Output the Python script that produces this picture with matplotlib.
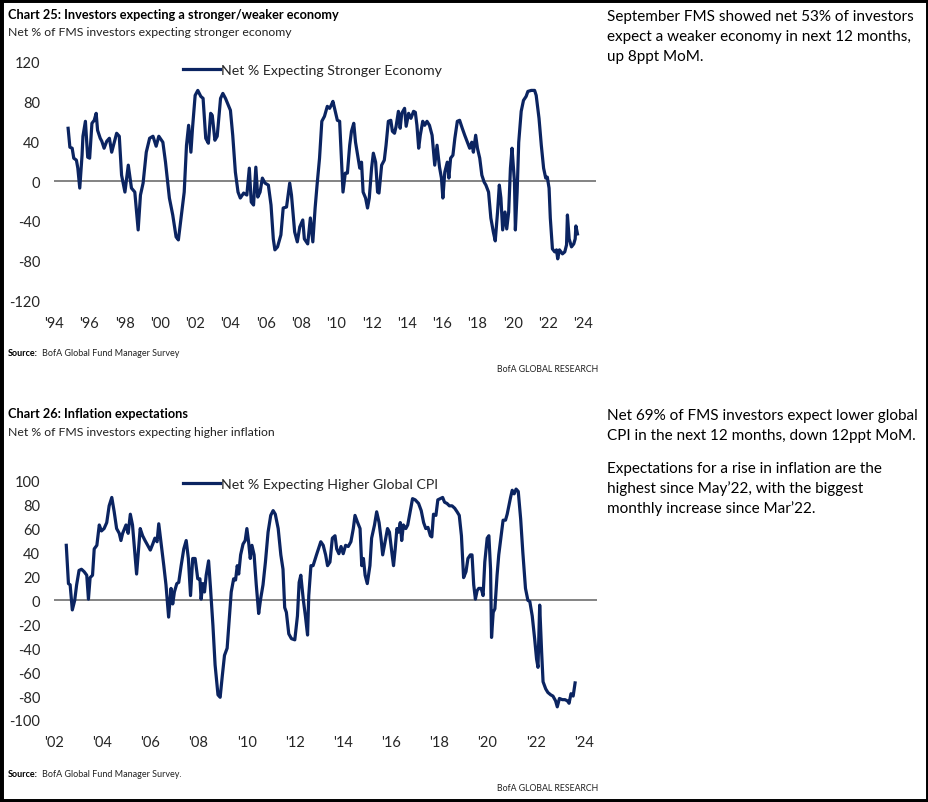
import matplotlib
matplotlib.use("Agg")
import matplotlib.pyplot as plt
from matplotlib.patches import Rectangle

# ---------------- data ----------------
econ_dates = [1994.80, 1994.90, 1995.03, 1995.12, 1995.27, 1995.35, 1995.46, 1995.59, 1995.64, 1995.78,
              1995.91, 1996.02, 1996.15, 1996.28, 1996.39, 1996.47, 1996.62, 1996.71, 1996.84, 1996.99,
              1997.14, 1997.27, 1997.40, 1997.55, 1997.70, 1997.83, 1998.02, 1998.21, 1998.39, 1998.58,
              1998.77, 1998.90, 1999.05, 1999.23, 1999.42, 1999.61, 1999.79, 1999.94, 2000.17, 2000.32,
              2000.54, 2000.73, 2000.92, 2001.05, 2001.20, 2001.38, 2001.51, 2001.63, 2001.76, 2001.85,
              2002.00, 2002.15, 2002.32, 2002.45, 2002.60, 2002.75, 2002.88, 2002.97, 2003.12, 2003.25,
              2003.44, 2003.57, 2003.72, 2003.91, 2004.00, 2004.13, 2004.28, 2004.43, 2004.56, 2004.75,
              2004.93, 2005.07, 2005.18, 2005.31, 2005.44, 2005.55, 2005.68, 2005.81, 2005.96, 2006.15,
              2006.30, 2006.43, 2006.52, 2006.67, 2006.86, 2006.99, 2007.18, 2007.36, 2007.46, 2007.64,
              2007.79, 2007.93, 2008.10, 2008.19, 2008.38, 2008.53, 2008.67, 2008.80, 2008.91, 2009.05,
              2009.18, 2009.33, 2009.49, 2009.62, 2009.71, 2009.81, 2009.94, 2010.06, 2010.19, 2010.29,
              2010.38, 2010.51, 2010.63, 2010.76, 2010.86, 2010.99, 2011.09, 2011.24, 2011.33, 2011.43,
              2011.52, 2011.66, 2011.77, 2011.87, 2012.00, 2012.10, 2012.23, 2012.34, 2012.42, 2012.57,
              2012.72, 2012.82, 2012.95, 2013.09, 2013.18, 2013.30, 2013.39, 2013.52, 2013.62, 2013.71,
              2013.87, 2013.96, 2014.10, 2014.23, 2014.38, 2014.48, 2014.57, 2014.67, 2014.76, 2014.90,
              2015.01, 2015.14, 2015.28, 2015.43, 2015.58, 2015.71, 2015.85, 2015.96, 2016.04, 2016.15,
              2016.29, 2016.38, 2016.48, 2016.61, 2016.72, 2016.86, 2016.99, 2017.14, 2017.28, 2017.43,
              2017.56, 2017.68, 2017.77, 2017.90, 2018.00, 2018.13, 2018.25, 2018.38, 2018.48, 2018.63,
              2018.76, 2018.90, 2019.01, 2019.14, 2019.24, 2019.33, 2019.43, 2019.56, 2019.66, 2019.77,
              2019.87, 2019.96, 2020.10, 2020.15, 2020.25, 2020.34, 2020.48, 2020.61, 2020.76, 2020.86,
              2021.05, 2021.24, 2021.33, 2021.49, 2021.62, 2021.75, 2021.87, 2021.96, 2022.06, 2022.13,
              2022.25, 2022.38, 2022.48, 2022.55, 2022.65, 2022.82, 2022.95, 2023.05, 2023.10, 2023.20,
              2023.33, 2023.46, 2023.54, 2023.58, 2023.67]
econ_values = [53, 34, 33, 23, 21, 13, -7, 26, 45, 60,
               24, 23, 58, 61, 68, 51, 43, 40, 33, 40,
               43, 29, 38, 48, 45, 6, -11, 16, -7, -11,
               -49, -14, -2, 29, 43, 45, 35, 45, 39, 19,
               -17, -34, -56, -59, -37, -11, 36, 56, 29, 53,
               86, 91, 85, 83, 43, 38, 68, 66, 41, 45,
               83, 88, 83, 75, 71, 46, 9, -11, -17, -12,
               -14, 13, -21, -24, 14, -16, -11, 3, -2, -4,
               -24, -58, -69, -66, -54, -27, -26, -2, -14, -51,
               -61, -46, -39, -58, -63, -37, -61, -27, -4, 23,
               60, 65, 75, 73, 76, 80, 70, 61, 60, 23,
               -11, 8, 8, 36, 50, 58, 39, 23, 13, 19,
               -11, -17, -27, -17, 13, 28, 19, -11, -12, 16,
               21, 36, 60, 61, 50, 48, 55, 70, 53, 68,
               73, 55, 68, 63, 70, 69, 56, 33, 46, 60,
               56, 60, 56, 46, 16, 36, 14, 3, -17, 9,
               19, 3, 23, 26, 43, 60, 61, 53, 46, 39,
               33, 39, 29, 46, 33, 23, 6, -1, -4, -11,
               -37, -51, -60, -31, -4, -17, -49, -31, -48, -31,
               13, 33, -1, -49, -11, 39, 70, 81, 85, 90,
               91, 91, 86, 63, 36, 13, 3, 4, -7, -37,
               -68, -71, -69, -78, -69, -73, -71, -64, -34, -58,
               -66, -63, -58, -45, -53]

cpi_dates = [2002.51, 2002.60, 2002.67, 2002.76, 2002.86, 2002.94, 2003.04, 2003.14, 2003.25, 2003.36,
             2003.43, 2003.50, 2003.60, 2003.67, 2003.78, 2003.88, 2003.97, 2004.08, 2004.19, 2004.29,
             2004.40, 2004.50, 2004.60, 2004.71, 2004.78, 2004.85, 2004.99, 2005.08, 2005.17, 2005.26,
             2005.33, 2005.43, 2005.50, 2005.58, 2005.68, 2005.78, 2005.89, 2006.00, 2006.10, 2006.19,
             2006.28, 2006.35, 2006.44, 2006.56, 2006.65, 2006.76, 2006.86, 2006.93, 2007.00, 2007.10,
             2007.18, 2007.28, 2007.39, 2007.49, 2007.58, 2007.67, 2007.76, 2007.86, 2007.97, 2008.06,
             2008.11, 2008.18, 2008.25, 2008.32, 2008.42, 2008.50, 2008.60, 2008.69, 2008.81, 2008.90,
             2008.99, 2009.08, 2009.19, 2009.29, 2009.36, 2009.46, 2009.54, 2009.61, 2009.67, 2009.75,
             2009.85, 2009.94, 2010.01, 2010.08, 2010.15, 2010.22, 2010.31, 2010.40, 2010.50, 2010.58,
             2010.68, 2010.78, 2010.89, 2011.00, 2011.10, 2011.19, 2011.31, 2011.42, 2011.51, 2011.58,
             2011.65, 2011.75, 2011.86, 2012.00, 2012.11, 2012.18, 2012.25, 2012.35, 2012.44, 2012.53,
             2012.58, 2012.67, 2012.76, 2012.90, 2013.08, 2013.18, 2013.28, 2013.36, 2013.46, 2013.56,
             2013.67, 2013.74, 2013.83, 2013.92, 2014.01, 2014.11, 2014.22, 2014.33, 2014.43, 2014.50,
             2014.61, 2014.71, 2014.78, 2014.85, 2014.92, 2015.01, 2015.12, 2015.19, 2015.31, 2015.40,
             2015.50, 2015.58, 2015.65, 2015.75, 2015.85, 2015.93, 2016.03, 2016.10, 2016.17, 2016.24,
             2016.31, 2016.38, 2016.44, 2016.51, 2016.61, 2016.69, 2016.79, 2016.89, 2017.00, 2017.14,
             2017.25, 2017.35, 2017.44, 2017.53, 2017.63, 2017.69, 2017.76, 2017.86, 2017.94, 2018.04,
             2018.14, 2018.22, 2018.32, 2018.42, 2018.53, 2018.64, 2018.74, 2018.83, 2018.92, 2019.01,
             2019.11, 2019.19, 2019.29, 2019.36, 2019.43, 2019.50, 2019.57, 2019.64, 2019.74, 2019.82,
             2019.89, 2019.99, 2020.06, 2020.13, 2020.17, 2020.24, 2020.31, 2020.40, 2020.47, 2020.57,
             2020.65, 2020.75, 2020.82, 2020.89, 2020.96, 2021.03, 2021.11, 2021.19, 2021.28, 2021.38,
             2021.47, 2021.58, 2021.68, 2021.76, 2021.86, 2021.96, 2022.04, 2022.10, 2022.17, 2022.25,
             2022.31, 2022.42, 2022.51, 2022.63, 2022.72, 2022.83, 2022.90, 2022.99, 2023.11, 2023.22,
             2023.32, 2023.39, 2023.47, 2023.56, 2023.64]
cpi_values = [46, 14, 13, -8, 0, 13, 25, 26, 24, 21,
              1, 19, 21, 43, 46, 63, 58, 60, 65, 79,
              86, 74, 60, 56, 50, 56, 63, 56, 72, 63,
              46, 22, 40, 60, 54, 50, 46, 42, 47, 52,
              49, 64, 49, 29, 13, -14, 10, -3, 7, 14,
              15, 29, 43, 50, 35, 4, 35, 35, 18, 18,
              1, 14, 7, 21, 33, 10, -21, -54, -79, -81,
              -63, -46, -40, -13, 7, 18, 17, 29, 22, 38,
              47, 50, 60, 49, 35, 46, 38, 13, -11, 1,
              13, 32, 57, 71, 75, 72, 60, 38, 26, -6,
              -10, -28, -32, -33, -13, 15, 21, 1, -13, -29,
              4, 29, 29, 38, 49, 46, 38, 29, 32, 52,
              54, 43, 39, 45, 39, 46, 45, 49, 60, 71,
              65, 60, 29, 35, 21, 14, 29, 52, 63, 74,
              65, 52, 38, 49, 60, 57, 40, 29, 43, 60,
              57, 65, 50, 63, 60, 63, 74, 85, 84, 81,
              75, 65, 60, 61, 54, 53, 72, 71, 84, 85,
              86, 82, 81, 79, 79, 77, 74, 71, 54, 19,
              24, 35, 38, 38, 13, 1, 8, 10, 10, 4,
              32, 52, 54, 26, -31, -10, -7, 21, 38, 54,
              67, 67, 72, 79, 86, 92, 89, 93, 91, 68,
              40, 10, 0, -1, -13, -32, -49, -56, -4, -43,
              -68, -74, -77, -79, -80, -84, -89, -82, -83, -83,
              -84, -86, -78, -80, -69]

econ_yticks = [-120, -80, -40, 0, 40, 80, 120]
econ_xticks = list(range(1994, 2025, 2))
econ_xlabels = ["'94", "'96", "'98", "'00", "'02", "'04", "'06", "'08", "'10", "'12",
                "'14", "'16", "'18", "'20", "'22", "'24"]
cpi_yticks = [-100, -80, -60, -40, -20, 0, 20, 40, 60, 80, 100]
cpi_xticks = list(range(2002, 2025, 2))
cpi_xlabels = ["'02", "'04", "'06", "'08", "'10", "'12", "'14", "'16", "'18", "'20", "'22", "'24"]

# ---------------- style ----------------
W, H = 929, 803
NAVY = '#0b2461'
ZERO = '#6e6e6e'
TICKC = '#262626'
TICKFONT = ['Lato', 'DejaVu Sans']
BODY = ['Lato', 'DejaVu Sans']

fig = plt.figure(figsize=(W / 100, H / 100), dpi=100)
fig.patch.set_facecolor('white')


def px_axes(left, top, right, bottom):
    return fig.add_axes([left / W, 1 - bottom / H, (right - left) / W, (bottom - top) / H])


def ftext(x, y, s, **kw):
    return fig.text(x / W, 1 - y / H, s, **kw)


def style_axes(ax, xticks, xlabels, yticks, xlim, ylim):
    ax.set_xlim(*xlim)
    ax.set_ylim(*ylim)
    for sp in ax.spines.values():
        sp.set_visible(False)
    ax.set_xticks(xticks)
    ax.set_xticklabels(xlabels)
    ax.set_yticks(yticks)
    ax.set_yticklabels([str(v) for v in yticks])
    ax.tick_params(axis='both', length=0, colors=TICKC, labelsize=10.5)
    ax.tick_params(axis='x', pad=11)
    ax.tick_params(axis='y', pad=10)
    for lab in ax.get_xticklabels() + ax.get_yticklabels():
        lab.set_family(TICKFONT)
    ax.axhline(0, color=ZERO, lw=1.2, zorder=1)
    ax.set_facecolor('none')


def source_line(y, rest):
    t = ftext(8, y, 'Source:', family=BODY, weight='bold', size=6.5, va='center', color='black')
    fig.canvas.draw()
    bb = t.get_window_extent(renderer=fig.canvas.get_renderer())
    ftext(bb.x1 + 4, y, rest, family=BODY, size=6.5, va='center', color='#222222')


# ---------------- chart 25 ----------------
ax1 = px_axes(54, 62.5, 596, 301.7)
style_axes(ax1, econ_xticks, econ_xlabels, econ_yticks, (1994.0, 2024.72), (-120, 120))
ax1.plot(econ_dates, econ_values, color=NAVY, lw=2.3, solid_joinstyle='round', zorder=3,
         label='Net % Expecting Stronger Economy')
leg1 = ax1.legend(loc='upper left', bbox_to_anchor=(183 / W, 1 - 65 / H), bbox_transform=fig.transFigure,
                  frameon=False, borderpad=0, borderaxespad=0, handlelength=2.6, handletextpad=0.1,
                  prop={'family': TICKFONT, 'size': 10.2})
for t in leg1.get_texts():
    t.set_color(TICKC)

# ---------------- chart 26 ----------------
ax2 = px_axes(54, 481.7, 597, 721)
style_axes(ax2, cpi_xticks, cpi_xlabels, cpi_yticks, (2002.0, 2024.55), (-100, 100))
ax2.plot(cpi_dates, cpi_values, color=NAVY, lw=2.3, solid_joinstyle='round', zorder=3,
         label='Net % Expecting Higher Global CPI')
leg2 = ax2.legend(loc='upper left', bbox_to_anchor=(183 / W, 1 - 479 / H), bbox_transform=fig.transFigure,
                  frameon=False, borderpad=0, borderaxespad=0, handlelength=2.6, handletextpad=0.1,
                  prop={'family': TICKFONT, 'size': 10.2})
for t in leg2.get_texts():
    t.set_color(TICKC)

# ---------------- titles & notes ----------------
ftext(8, 15, 'Chart 25: Investors expecting a stronger/weaker economy', family=BODY,
      weight='bold', size=9.2, va='center', color='black')
ftext(8, 32, 'Net % of FMS investors expecting stronger economy', family=BODY,
      size=8.8, va='center', color='#222222')
source_line(354, 'BofA Global Fund Manager Survey')
ftext(598, 370, 'BofA GLOBAL RESEARCH', family=BODY, size=6.3, va='center', ha='right', color='#222222')

ftext(8, 414, 'Chart 26: Inflation expectations', family=BODY,
      weight='bold', size=9.2, va='center', color='black')
ftext(8, 433, 'Net % of FMS investors expecting higher inflation', family=BODY,
      size=8.8, va='center', color='#222222')
source_line(775, 'BofA Global Fund Manager Survey.')
ftext(598, 789, 'BofA GLOBAL RESEARCH', family=BODY, size=6.3, va='center', ha='right', color='#222222')

side1 = ['September FMS showed net 53% of investors',
         'expect a weaker economy in next 12 months,',
         'up 8ppt MoM.']
for i, line in enumerate(side1):
    ftext(607, 17 + 20 * i, line, family=BODY, size=11, va='center', color='black')

side2 = ['Net 69% of FMS investors expect lower global',
         'CPI in the next 12 months, down 12ppt MoM.']
for i, line in enumerate(side2):
    ftext(607, 416 + 20 * i, line, family=BODY, size=11, va='center', color='black')
side3 = ['Expectations for a rise in inflation are the',
         'highest since May\u201922, with the biggest',
         'monthly increase since Mar\u201922.']
for i, line in enumerate(side3):
    ftext(607, 469 + 20 * i, line, family=BODY, size=11, va='center', color='black')

# frame
fig.patches.append(Rectangle((0, 0), 1, 1, transform=fig.transFigure, fill=False,
                             edgecolor='black', linewidth=5, zorder=10))

fig.savefig('out.png', dpi=100, facecolor='white')
